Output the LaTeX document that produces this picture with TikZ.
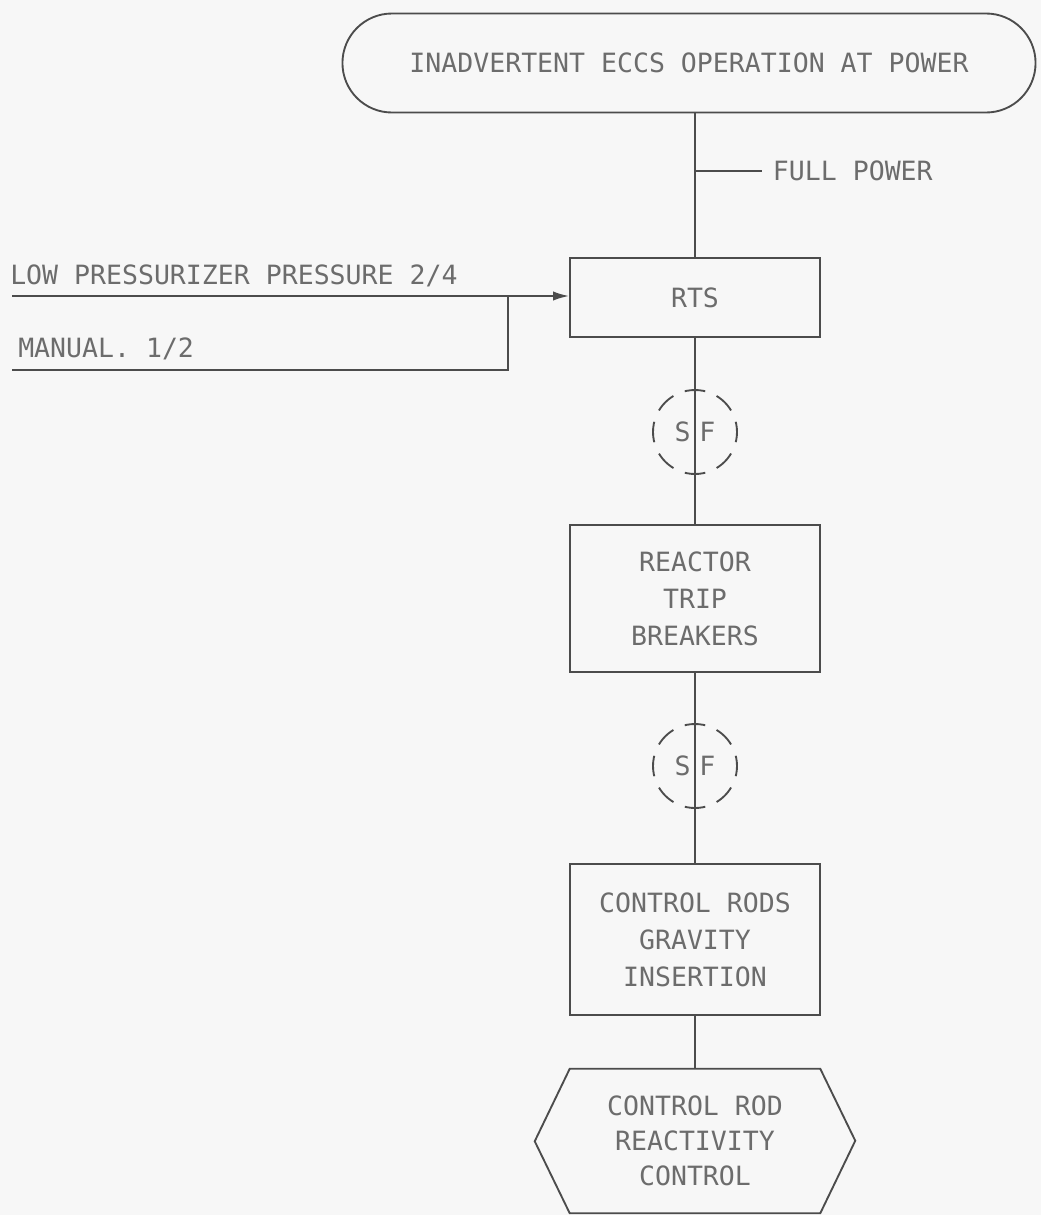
\documentclass[tikz,border=0pt]{standalone}
\usepackage{fontspec}
\newfontfamily\lettering{DejaVu Sans Mono}
\usetikzlibrary{shapes.misc,arrows.meta}
\definecolor{ink}{HTML}{4C4C4C}
\definecolor{lead}{HTML}{6C6C6C}
\definecolor{paper}{HTML}{F7F7F7}

\begin{document}
\begin{tikzpicture}[x=0.75pt,y=-0.75pt,
  every node/.style={font=\lettering\fontsize{19.9pt}{27.75pt}\selectfont, text=lead},
  line/.style={draw=ink, line width=1.4pt},
  box/.style={line, rectangle, minimum width=187.5pt, align=center},
  sfring/.style={line, circle, minimum size=63pt, inner sep=0pt,
    dash pattern=on 15.5pt off 9.24pt, dash phase=7.75pt},
  terminal/.style={line, rounded rectangle, minimum width=526.5pt, minimum height=74.25pt},
  plain/.style={anchor=base west, inner sep=0pt}
]
% sheet
\fill[paper] (0,0) rectangle (1041,1215);
\useasboundingbox (0,0) rectangle (1041,1215);

% initiating event
\node[terminal] (top) at (689,63) {INADVERTENT ECCS OPERATION AT POWER};

% protection chain
\node[box, minimum height=59.25pt] (rts) at (695,297.5) {RTS};
\node[sfring] (sf1) at (695,432) {S\hspace{6.75pt}F};
\node[box, minimum height=110.25pt] (rtb) at (695,598.5) {REACTOR\\TRIP\\BREAKERS};
\node[sfring] (sf2) at (695,766) {S\hspace{6.75pt}F};
\node[box, minimum height=113.25pt] (crg) at (695,939.5) {CONTROL RODS\\GRAVITY\\INSERTION};

% safety function (hexagon)
\node[minimum width=187.5pt, minimum height=108pt, align=center,
      font=\lettering\fontsize{19.9pt}{26.25pt}\selectfont] (crc) at (695,1141)
      {CONTROL ROD\\REACTIVITY\\CONTROL};
\draw[line] (crc.north west) -- (crc.north east) -- ++(26.25pt,-54pt)
  -- (crc.south east) -- (crc.south west) -- ++(-26.25pt,54pt) -- cycle;

% vertical connectors
\draw[line] (top.south -| rts.north) -- (rts.north);
\draw[line] (rts.south) -- (rtb.north);
\draw[line] (rtb.south) -- (crg.north);
\draw[line] (crg.south) -- (crc.north);

% plant condition
\coordinate (fp) at (695,171);
\node[anchor=west, inner sep=8pt] (fpl) at (762,171) {FULL POWER};
\draw[line] (fp) -- (fpl.west);

% trip signals
\coordinate (lpin) at (12,296);
\draw[line, -{Latex[length=12pt,width=7pt]}] (lpin) -- (lpin -| rts.west);
\node[plain] (lptxt) at (10,284) {LOW PRESSURIZER PRESSURE 2/4};
\coordinate (mnin) at (12,370);
\coordinate (mnj) at (508,370);
\draw[line] (mnin) -- (mnj) -- (mnj |- lpin);
\node[plain] (mntxt) at (18,357) {MANUAL. 1/2};
\end{tikzpicture}
\end{document}
